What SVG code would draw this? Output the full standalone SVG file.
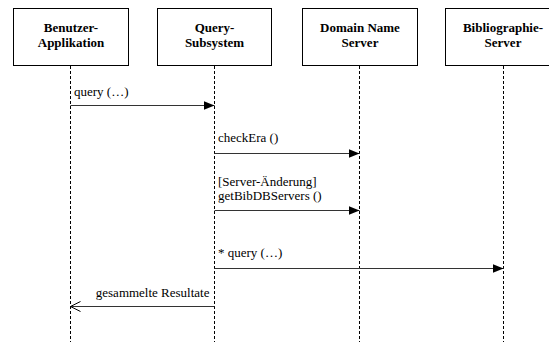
<svg xmlns="http://www.w3.org/2000/svg" width="549" height="342" viewBox="0 0 549 342">
  <style>
    .box { fill: #fff; stroke: #000; stroke-width: 1; }
    .title { font-weight: bold; font-size: 13px; fill: #000; text-anchor: middle; }
    .life { stroke: #000; stroke-width: 1; stroke-dasharray: 3 2; fill: none; }
    .msg { stroke: #333; stroke-width: 1; fill: none; }
    .label { font-size: 13px; fill: #000; }
  </style>
  <defs>
    <marker id="filled" markerWidth="11" markerHeight="9" refX="11" refY="4.5" orient="auto" markerUnits="userSpaceOnUse">
      <path d="M0,0 L11,4.5 L0,9 Z" fill="#000"/>
    </marker>
    <marker id="open" markerWidth="12" markerHeight="12" refX="11" refY="6" orient="auto" markerUnits="userSpaceOnUse">
      <path d="M1,1 L11,6 L1,11" fill="none" stroke="#000" stroke-width="1"/>
    </marker>
  </defs>

  <rect width="549" height="342" fill="#fff"/>

  <!-- lifelines -->
  <g id="lifelines">
    <line class="life" x1="70.5" y1="66" x2="70.5" y2="342"/>
    <line class="life" x1="214.5" y1="66" x2="214.5" y2="342"/>
    <line class="life" x1="359.5" y1="66" x2="359.5" y2="342"/>
    <line class="life" x1="503.5" y1="66" x2="503.5" y2="342"/>
  </g>

  <g font-family="Liberation Serif, Times New Roman, serif">
    <!-- participants -->
    <g id="benutzer-applikation">
      <rect class="box" x="13.5" y="8.5" width="115" height="57"/>
      <text class="title" x="71" y="31.5">Benutzer-</text>
      <text class="title" x="71" y="47">Applikation</text>
    </g>
    <g id="query-subsystem">
      <rect class="box" x="157.5" y="8.5" width="114" height="57"/>
      <text class="title" x="214.5" y="31.5">Query-</text>
      <text class="title" x="214.5" y="47">Subsystem</text>
    </g>
    <g id="domain-name-server">
      <rect class="box" x="302.5" y="8.5" width="115" height="57"/>
      <text class="title" x="360" y="31.5">Domain Name</text>
      <text class="title" x="360" y="47">Server</text>
    </g>
    <g id="bibliographie-server">
      <rect class="box" x="445.5" y="8.5" width="115" height="57"/>
      <text class="title" x="503" y="31.5">Bibliographie-</text>
      <text class="title" x="503" y="47">Server</text>
    </g>

    <!-- messages -->
    <g id="connectors">
      <line class="msg" x1="70.5" y1="105.5" x2="214.5" y2="105.5" marker-end="url(#filled)"/>
      <text class="label" x="74" y="96">query (…)</text>

      <line class="msg" x1="214.5" y1="153.5" x2="359.5" y2="153.5" marker-end="url(#filled)"/>
      <text class="label" x="218" y="142">checkEra ()</text>

      <line class="msg" x1="214.5" y1="210.5" x2="359.5" y2="210.5" marker-end="url(#filled)"/>
      <text class="label" x="218" y="186">[Server-Änderung]</text>
      <text class="label" x="218" y="200">getBibDBServers ()</text>

      <line class="msg" x1="214.5" y1="268.5" x2="503.5" y2="268.5" marker-end="url(#filled)"/>
      <text class="label" x="218" y="257">* query (…)</text>

      <line class="msg" x1="214.5" y1="306.5" x2="70.5" y2="306.5" marker-end="url(#open)"/>
      <text class="label" x="209.5" y="297" text-anchor="end">gesammelte Resultate</text>
    </g>
  </g>
</svg>
